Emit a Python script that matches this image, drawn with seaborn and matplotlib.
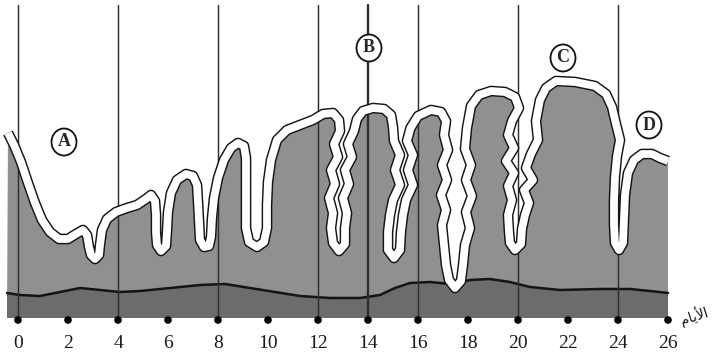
import numpy as np
import pandas as pd
import matplotlib
matplotlib.use("Agg")
import matplotlib.pyplot as plt
import matplotlib.patheffects as pe
from matplotlib.patches import Ellipse
import seaborn as sns

sns.set_theme(style="white")
plt.rcParams['font.family'] = ['Liberation Serif', 'DejaVu Sans']

# ---- data: endometrium surface (day, thickness) ----
surface_day = [-0.40, -0.16, 0.12, 0.40, 0.68, 0.96, 1.28, 1.64, 2.00, 2.32, 2.60, 2.76, 2.84, 2.92, 3.08,
               3.24, 3.28, 3.36, 3.56, 3.92, 4.36, 4.76, 5.12, 5.32, 5.48, 5.52, 5.52, 5.56, 5.72, 5.92,
               5.96, 6.00, 6.12, 6.36, 6.72, 7.00, 7.16, 7.20, 7.24, 7.28, 7.44, 7.64, 7.72, 7.76, 7.84,
               8.00, 8.24, 8.52, 8.80, 9.04, 9.12, 9.12, 9.12, 9.12, 9.24, 9.56, 9.84, 9.96, 9.96, 10.00,
               10.12, 10.36, 10.76, 11.28, 11.80, 12.20, 12.60, 12.84,
               12.88, 12.64, 12.80, 12.52, 12.68, 12.44, 12.60, 12.52, 12.60, 12.84,
               13.08, 13.08, 13.16, 13.00, 13.24, 13.08, 13.36, 13.20, 13.44, 13.56,
               13.80, 14.20, 14.64, 14.92, 15.00,
               15.04, 15.28, 15.08, 15.28, 15.00, 14.88, 14.80, 14.80, 15.04,
               15.28, 15.32, 15.40, 15.52, 15.80, 15.60, 15.80, 15.56, 15.70,
               16.00, 16.52, 16.92, 17.12,
               17.04, 17.20, 16.96, 17.16, 16.92, 17.12, 16.96, 17.04, 17.12, 17.24, 17.48,
               17.72, 17.80, 17.88, 18.08, 17.92, 18.16, 17.92, 18.12, 17.88, 17.96, 18.12,
               18.44, 18.92, 19.48, 19.88, 20.04,
               19.76, 19.60, 19.84, 19.52, 19.84, 19.60, 19.76, 19.60, 19.64, 19.68, 19.88,
               20.12, 20.16, 20.28, 20.44, 20.24, 20.60, 20.32, 20.52, 20.80, 20.72, 20.88,
               21.12, 21.52, 22.28, 23.08, 23.52, 23.76, 23.92, 24.08,
               23.96, 23.88, 23.84, 23.84, 23.88, 24.04,
               24.20, 24.24, 24.28, 24.40, 24.64, 24.96, 25.36, 25.68, 26.00]
surface_h = [185, 173, 156, 135, 115, 98, 86, 79, 79, 84, 88, 83, 71, 63, 59,
             63, 73, 88, 99, 106, 110, 113, 119, 123, 117, 103, 86, 73, 67, 72,
             87, 106, 125, 138, 144, 142, 133, 116, 96, 78, 71, 72, 81, 100, 120,
             140, 158, 170, 175, 172, 160, 138, 113, 90, 76, 71, 76, 90, 113, 136,
             158, 178, 188, 193, 198, 204, 205, 198,
             187, 174, 161, 148, 134, 120, 105, 90, 75, 67,
             74, 90, 105, 120, 134, 148, 161, 174, 187, 199,
             207, 210, 209, 203, 191,
             177, 163, 148, 133, 118, 103, 86, 68, 60,
             68, 86, 103, 118, 133, 148, 163, 177, 190,
             202, 208, 206, 197,
             183, 168, 153, 138, 123, 108, 93, 73, 53, 38, 30,
             37, 53, 73, 90, 106, 122, 138, 153, 169, 190, 212,
             223, 227, 226, 221, 210,
             197, 183, 170, 157, 145, 132, 118, 103, 86, 75, 68,
             74, 89, 103, 115, 128, 138, 150, 164, 178, 197, 218,
             230, 237, 236, 232, 224, 211, 194, 178,
             162, 141, 118, 93, 75, 68,
             75, 98, 123, 145, 158, 164, 164, 160, 157]

# basal layer boundary
basal_day = [-0.44, 0.08, 0.88, 1.68, 2.48, 3.28, 4.08, 4.88, 5.68, 6.48, 7.28, 8.28, 9.28, 10.28,
             11.28, 12.48, 13.68, 14.48, 15.08, 15.68, 16.48, 17.28, 18.08, 18.88, 19.68, 20.48,
             21.68, 23.28, 24.48, 25.28, 26.00]
basal_h = [25, 23, 22, 26, 30, 28, 26, 27, 29, 31, 33, 34, 30, 26, 22, 20, 20, 23, 30, 35, 36, 34,
           38, 39, 36, 31, 28, 29, 29, 27, 25]

tick_days = [0, 2, 4, 6, 8, 10, 12, 14, 16, 18, 20, 22, 24, 26]
tick_labels = [str(d) for d in tick_days]
line_days = [0, 4, 8, 12, 14, 16, 20, 24]
marker_labels = ['A', 'B', 'C', 'D']
marker_day = [1.84, 14.04, 21.80, 25.24]
marker_h = [176, 270, 260, 193]
axis_title = "\uFEE1\uFE8E\uFEF3\uFEF7\uFE8D"  # الأيام (presentation forms, visual order)

# ---- figure ----
fig = plt.figure(figsize=(7.12, 3.58), dpi=100)
ax = fig.add_axes([0, 0, 1, 1])

tissue_col = '#909090'
basal_col = '#6c6c6c'

# functional layer
px = [surface_day[0] - 0.04] + surface_day + [surface_day[-1], surface_day[0] - 0.04]
py = [0] + surface_h + [0, 0]
ax.fill(px, py, color=tissue_col, lw=0, zorder=1)

# basal layer
bx = basal_day + [basal_day[-1], basal_day[0]]
by = basal_h + [0, 0]
ax.fill(bx, by, color=basal_col, lw=0, zorder=1.5)
sns.lineplot(x=basal_day, y=basal_h, sort=False, estimator=None, color='#141414',
             linewidth=1.8, ax=ax, zorder=2)

# day lines
for d in line_days:
    ax.plot([d, d], [-2, 313], color='#2e2e2e', lw=1.7 if d == 14 else 1.05, zorder=2.5)

# epithelial surface band
surf = pd.DataFrame({'day': surface_day, 'h': surface_h})
sns.lineplot(data=surf, x='day', y='h', sort=False, estimator=None, color='white',
             linewidth=5.6, ax=ax, zorder=3, solid_capstyle='butt', solid_joinstyle='round',
             path_effects=[pe.Stroke(linewidth=7.7, foreground='#151515', capstyle='butt',
                                     joinstyle='round'), pe.Normal()])

# tick dots and labels
sns.scatterplot(x=tick_days, y=[-2] * len(tick_days), color='black', s=30, ax=ax,
                zorder=4, edgecolor='none')
for d, lab in zip(tick_days, tick_labels):
    ax.text(d, -25, lab, ha='center', va='center', fontsize=14, color='#1a1a1a',
            family='Liberation Serif')

ax.text(27.05, 2, axis_title, ha='center', va='center', fontsize=10, rotation=18,
        family='DejaVu Sans', color='#1a1a1a')

# circled labels
for lab, d, h in zip(marker_labels, marker_day, marker_h):
    ax.add_patch(Ellipse((d, h), width=1.0, height=27, facecolor='white',
                         edgecolor='#111111', lw=1.3, zorder=5))
    ax.text(d, h, lab, ha='center', va='center', fontsize=13, fontweight='bold',
            family='Liberation Serif', zorder=6)

ax.set_xlim(-0.72, 27.76)
ax.set_ylim(-40, 318)
ax.axis('off')
if ax.get_legend() is not None:
    ax.get_legend().remove()

fig.savefig('out.png', dpi=100)
